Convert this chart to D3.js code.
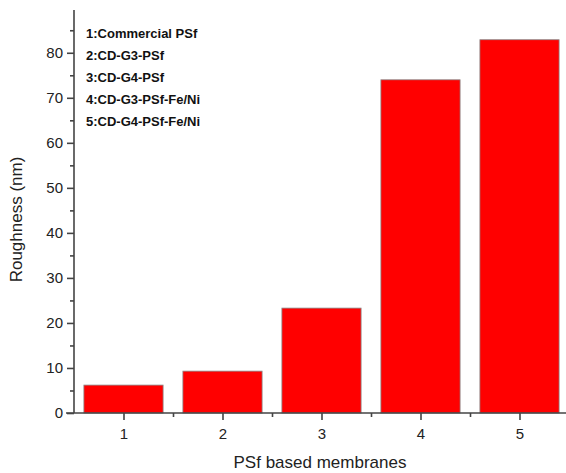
<!DOCTYPE html>
<html>
<head>
<meta charset="utf-8">
<script src="https://cdn.jsdelivr.net/npm/d3@7"></script>
<style>
  body { margin: 0; background: #fff; }
  text { font-family: "Liberation Sans", Arial, sans-serif; }
</style>
</head>
<body>
<svg id="chart" width="566" height="473"></svg>
<script>
// data
const categories = [1, 2, 3, 4, 5];
const roughness = [6.2, 9.3, 23.3, 74.0, 82.9];
const legendLabels = [
  '1:Commercial PSf',
  '2:CD-G3-PSf',
  '3:CD-G4-PSf',
  '4:CD-G3-PSf-Fe/Ni',
  '5:CD-G4-PSf-Fe/Ni'
];
const yTicks = [0, 10, 20, 30, 40, 50, 60, 70, 80];

const svg = d3.select('#chart');
const plotL = 74, plotR = 569, plotT = 10, plotB = 413;
const axisColor = '#444';

const x = d3.scaleLinear().domain([0.5, 5.5]).range([plotL, plotR]);
const y = d3.scaleLinear().domain([0, 89.5]).range([plotB, plotT]);
const barW = (x(2) - x(1)) * 0.8;

// bars
svg.append('g').selectAll('rect')
  .data(categories)
  .enter().append('rect')
    .attr('x', d => x(d) - barW / 2)
    .attr('y', (d, i) => y(roughness[i]))
    .attr('width', barW)
    .attr('height', (d, i) => y(0) - y(roughness[i]))
    .attr('fill', '#ff0000')
    .attr('stroke', '#8a8a8a')
    .attr('stroke-width', 0.8);

// y axis
const yAxis = svg.append('g')
  .attr('transform', `translate(${plotL},0)`)
  .call(d3.axisLeft(y).tickValues(yTicks).tickSize(7).tickPadding(4).tickFormat(d3.format('d')));
yAxis.select('.domain').attr('d', `M0,${plotB}V${plotT}`);
svg.append('g')
  .attr('transform', `translate(${plotL},0)`)
  .call(d3.axisLeft(y).tickValues(d3.range(5, 90, 10)).tickSize(4).tickFormat(''))
  .select('.domain').remove();

// x axis
const xAxis = svg.append('g')
  .attr('transform', `translate(0,${plotB})`)
  .call(d3.axisBottom(x).tickValues(categories).tickSize(7).tickPadding(8).tickFormat(d3.format('d')));
xAxis.select('.domain').attr('d', `M${plotL - 8},0H566`);
svg.append('g')
  .attr('transform', `translate(0,${plotB})`)
  .call(d3.axisBottom(x).tickValues([1.5, 2.5, 3.5, 4.5]).tickSize(4).tickFormat(''))
  .select('.domain').remove();

svg.selectAll('.domain, .tick line')
  .attr('stroke', axisColor)
  .attr('stroke-width', 1.6);
svg.selectAll('.tick text')
  .attr('fill', '#222')
  .style('font-size', '15px')
  .style('font-family', '"Liberation Sans", Arial, sans-serif');

// legend text
svg.append('g').selectAll('text')
  .data(legendLabels)
  .enter().append('text')
    .attr('x', 86)
    .attr('y', (d, i) => 38 + i * 22)
    .attr('fill', '#111')
    .style('font-size', '13px')
    .style('font-weight', 'bold')
    .text(d => d);

// axis titles
svg.append('text')
  .attr('transform', `translate(22,${(plotT + plotB) / 2 + 8}) rotate(-90)`)
  .attr('text-anchor', 'middle')
  .attr('fill', '#222')
  .style('font-size', '17px')
  .text('Roughness (nm)');

svg.append('text')
  .attr('x', 320)
  .attr('y', 468)
  .attr('text-anchor', 'middle')
  .attr('fill', '#222')
  .style('font-size', '17px')
  .text('PSf based membranes');
</script>
</body>
</html>
